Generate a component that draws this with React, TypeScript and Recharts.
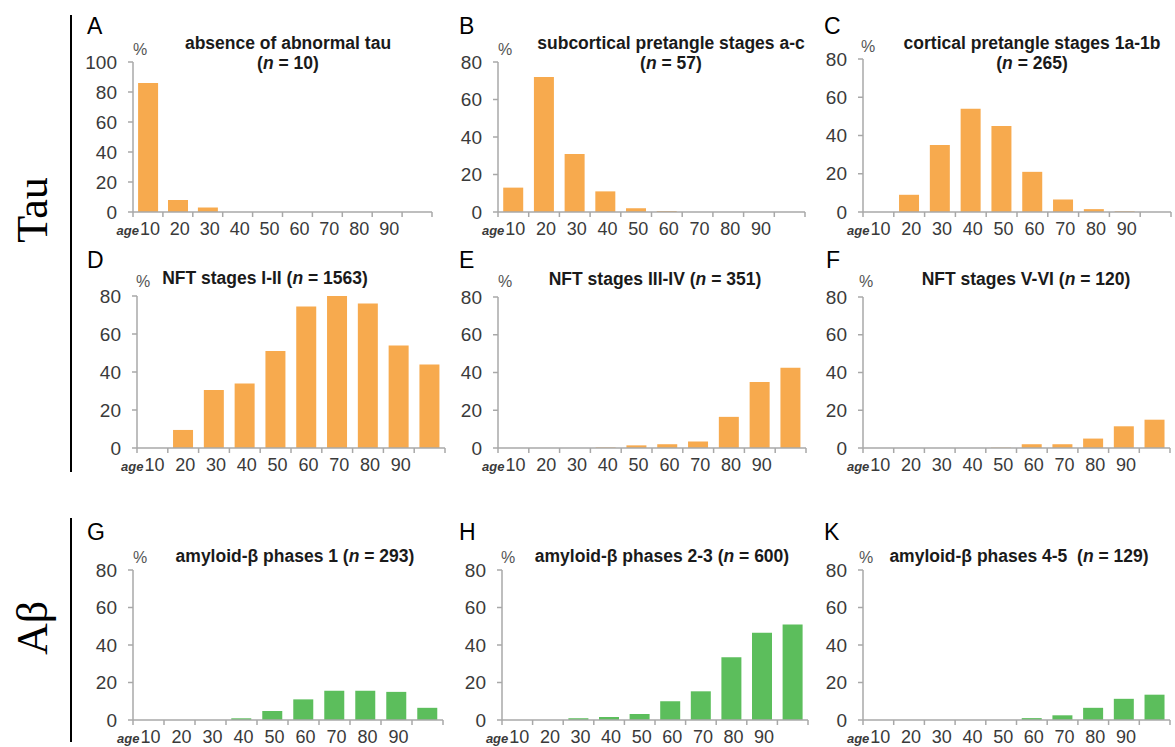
import { BarChart, Bar, XAxis, YAxis } from 'recharts'

const ageBins = ['10', '20', '30', '40', '50', '60', '70', '80', '90', '100']
const ageLabels = ['10', '20', '30', '40', '50', '60', '70', '80', '90', '']

// percentages per age decade
const absenceTau = [86, 8, 3, 0, 0, 0, 0, 0, 0, 0]
const subcorticalPretangle = [13, 72, 31, 11, 2, 0.5, 0, 0, 0, 0]
const corticalPretangle = [0, 9, 35, 54, 45, 21, 6.5, 1.5, 0.4, 0]
const nftStages12 = [0, 9.5, 30.5, 34, 51, 74.5, 80, 76, 54, 44]
const nftStages34 = [0, 0, 0, 0.3, 1.4, 2, 3.5, 16.5, 35, 42.5]
const nftStages56 = [0, 0, 0, 0, 0.2, 2, 2, 5, 11.5, 15]
const abetaPhase1 = [0, 0, 0, 0.9, 4.8, 11, 15.6, 15.6, 15, 6.5]
const abetaPhase23 = [0, 0, 0.9, 1.6, 3.2, 10, 15.3, 33.5, 46.5, 51]
const abetaPhase45 = [0, 0, 0, 0, 0, 1, 2.5, 6.5, 11.3, 13.5]

const ORANGE = '#F7AA4E'
const GREEN = '#5CBE5C'
const AXIS = '#A8A8A8'
const LABEL = '#3a3a3a'
const FONT = '"Liberation Sans", Arial, sans-serif'

const panels = [
  { id: 'A', title: 'absence of abnormal tau', n: '10', twoLines: true, values: absenceTau, color: ORANGE, yMax: 100,
    g: { axisX: 133, right: 432, top: 62, zero: 212 }, letter: [87, 34], titleAt: [288, 49], pct: [140, 55] },
  { id: 'B', title: 'subcortical pretangle stages a-c', n: '57', twoLines: true, values: subcorticalPretangle, color: ORANGE, yMax: 80,
    g: { axisX: 498, right: 805, top: 62, zero: 212 }, letter: [459, 34], titleAt: [671, 49], pct: [505, 55] },
  { id: 'C', title: 'cortical pretangle stages 1a-1b', n: '265', twoLines: true, values: corticalPretangle, color: ORANGE, yMax: 80,
    g: { axisX: 863, right: 1171, top: 59, zero: 212 }, letter: [824, 34], titleAt: [1032, 49], pct: [868, 52] },
  { id: 'D', title: 'NFT stages I-II', n: '1563', twoLines: false, values: nftStages12, color: ORANGE, yMax: 80,
    g: { axisX: 137, right: 445, top: 296, zero: 448 }, letter: [87, 268], titleAt: [265, 284], pct: [143, 287] },
  { id: 'E', title: 'NFT stages III-IV', n: '351', twoLines: false, values: nftStages34, color: ORANGE, yMax: 80,
    g: { axisX: 498, right: 806, top: 297, zero: 448 }, letter: [459, 268], titleAt: [655, 285], pct: [505, 287] },
  { id: 'F', title: 'NFT stages V-VI', n: '120', twoLines: false, values: nftStages56, color: ORANGE, yMax: 80,
    g: { axisX: 863, right: 1170, top: 297, zero: 448 }, letter: [826, 268], titleAt: [1026, 285], pct: [866, 287] },
  { id: 'G', title: 'amyloid-\u03b2 phases 1', n: '293', twoLines: false, values: abetaPhase1, color: GREEN, yMax: 80,
    g: { axisX: 133, right: 443, top: 570, zero: 720 }, letter: [87, 540], titleAt: [295, 562], pct: [140, 563] },
  { id: 'H', title: 'amyloid-\u03b2 phases 2-3', n: '600', twoLines: false, values: abetaPhase23, color: GREEN, yMax: 80,
    g: { axisX: 502, right: 808, top: 570, zero: 720 }, letter: [459, 540], titleAt: [662, 562], pct: [508, 563] },
  { id: 'K', title: 'amyloid-\u03b2 phases 4-5\u00a0', n: '129', twoLines: false, values: abetaPhase45, color: GREEN, yMax: 80,
    g: { axisX: 863, right: 1170, top: 570, zero: 720 }, letter: [824, 540], titleAt: [1019, 562], pct: [866, 563] },
]

function AgeTick(props: any) {
  const { x, index, bw, y0 } = props
  const left = x - bw / 2
  return (
    <g>
      <line x1={left} x2={left} y1={y0} y2={y0 + 5} stroke={AXIS} strokeWidth={1.5} />
      {index === 9 && <line x1={x + bw / 2} x2={x + bw / 2} y1={y0} y2={y0 + 5} stroke={AXIS} strokeWidth={1.5} />}
      <text x={x + 2} y={y0 + 23} textAnchor="middle" fontSize={18} fill={LABEL}>{ageLabels[index]}</text>
      {index === 0 && (
        <text x={x - 9} y={y0 + 23} textAnchor="end" fontSize={13} fontStyle="italic" fontWeight="bold" fill={LABEL}>age</text>
      )}
    </g>
  )
}

function Panel({ p }: { p: (typeof panels)[number] }) {
  const ML = 60, MT = 50, XH = 28
  const { g } = p
  const w = g.right - g.axisX + ML + 6
  const h = g.zero - g.top + MT + XH
  const bw = (g.right - g.axisX) / 10
  const y0 = MT + g.zero - g.top
  const data = ageBins.map((bin, i) => ({ bin, pct: p.values[i] }))
  const ticks = p.yMax === 100 ? [0, 20, 40, 60, 80, 100] : [0, 20, 40, 60, 80]
  return (
    <div style={{ position: 'absolute', left: g.axisX - ML, top: g.top - MT }}>
      <BarChart width={w} height={h} data={data} margin={{ top: MT, right: 6, bottom: 0, left: 0 }} barCategoryGap="17%">
        <XAxis
          dataKey="bin"
          height={XH}
          interval={0}
          axisLine={{ stroke: AXIS, strokeWidth: 1.5 }}
          tickLine={false}
          tick={(tp: any) => <AgeTick {...tp} bw={bw} y0={y0} />}
        />
        <YAxis
          width={ML}
          domain={[0, p.yMax]}
          ticks={ticks}
          interval={0}
          axisLine={{ stroke: AXIS, strokeWidth: 1.5 }}
          tickLine={{ stroke: AXIS, strokeWidth: 1.5 }}
          tickSize={5}
          tickMargin={11}
          tick={{ fill: LABEL, fontSize: 19 }}
        />
        <Bar dataKey="pct" fill={p.color} isAnimationActive={false} />
      </BarChart>
    </div>
  )
}

export default function App() {
  return (
    <div style={{ position: 'absolute', left: 0, top: 0, width: 1175, height: 747, background: '#fff', fontFamily: FONT, overflow: 'hidden' }}>
      {panels.map((p) => <Panel key={p.id} p={p} />)}
      <svg width={1175} height={747} style={{ position: 'absolute', left: 0, top: 0, pointerEvents: 'none' }}>
        <line x1={71} y1={15} x2={71} y2={472} stroke="#000" strokeWidth={2} />
        <line x1={71} y1={518} x2={71} y2={742} stroke="#000" strokeWidth={2} />
        <text transform="translate(47,210) rotate(-90)" textAnchor="middle" fontFamily='"Liberation Serif", "Times New Roman", serif' fontSize={44} fill="#000">Tau</text>
        <text transform="translate(47,628) rotate(-90)" textAnchor="middle" fontFamily='"Liberation Serif", "Times New Roman", serif' fontSize={44} fill="#000">A{'\u03b2'}</text>
        {panels.map((p) => (
          <g key={p.id} fontFamily={FONT}>
            <text x={p.letter[0]} y={p.letter[1]} fontSize={23} fill="#000">{p.id}</text>
            <text x={p.pct[0]} y={p.pct[1]} fontSize={16} textAnchor="middle" fill="#555">%</text>
            {p.twoLines ? (
              <>
                <text x={p.titleAt[0]} y={p.titleAt[1]} textAnchor="middle" fontSize={17.5} fontWeight="bold" fill="#1a1a1a">{p.title}</text>
                <text x={p.titleAt[0]} y={p.titleAt[1] + 20} textAnchor="middle" fontSize={17.5} fontWeight="bold" fill="#1a1a1a">
                  (<tspan fontStyle="italic">n</tspan> = {p.n})
                </text>
              </>
            ) : (
              <text x={p.titleAt[0]} y={p.titleAt[1]} textAnchor="middle" fontSize={17.5} fontWeight="bold" fill="#1a1a1a">
                {p.title} (<tspan fontStyle="italic">n</tspan> = {p.n})
              </text>
            )}
          </g>
        ))}
      </svg>
    </div>
  )
}
